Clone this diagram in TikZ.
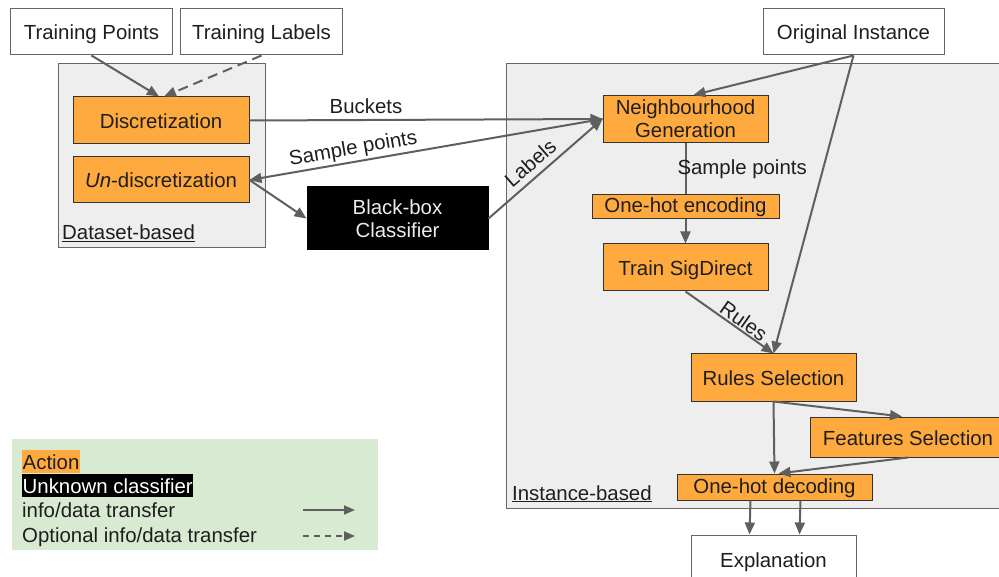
\documentclass[tikz,border=0pt]{standalone}
\usepackage{fontspec}
\setmainfont{Liberation Sans}
\usetikzlibrary{arrows.meta}

\definecolor{actorange}{RGB}{255,170,62}
\definecolor{panelgray}{RGB}{238,238,238}
\definecolor{edgegray}{RGB}{102,102,102}
\definecolor{flowgray}{RGB}{95,95,95}
\definecolor{legendgreen}{RGB}{217,234,211}
\definecolor{inktext}{RGB}{30,30,30}

\tikzset{
  txt/.style={font=\fontsize{20.4}{23.5}\selectfont, text=inktext},
  box/.style={txt, draw=edgegray, line width=1pt, inner sep=0pt, align=center},
  oneline/.style={text height=19pt, text depth=3pt},
  slim/.style={text height=18pt, text depth=6pt},
  inbox/.style={box, fill=white},
  actbox/.style={box, fill=actorange, draw=black!80},
  bbox/.style={box, fill=black, draw=black, text=white!92!black},
  panel/.style={draw=edgegray, line width=1pt, fill=panelgray},
  flow/.style={draw=flowgray, line width=2pt, -{Triangle[length=12pt,width=10pt]}},
  optflow/.style={flow, dash pattern=on 10pt off 6pt},
  lbl/.style={txt, inner sep=1pt},
}

\begin{document}
\begin{tikzpicture}[x=1pt, y=-1pt]
\useasboundingbox (0,0) rectangle (999,577);

% panels
\draw[panel] (58,64) rectangle (265,248);
\draw[panel] (506,64) rectangle (1003,508);
\fill[legendgreen] (12,439) rectangle (378,550);

% inputs and outputs
\node[inbox, oneline, minimum width=162pt, minimum height=46pt] (tp) at (91.5,32) {Training Points};
\node[inbox, oneline, minimum width=162pt, minimum height=46pt] (tl) at (261.5,32) {Training Labels};
\node[inbox, oneline, minimum width=181pt, minimum height=46pt] (oi) at (853.5,32) {Original Instance};
\node[inbox, oneline, minimum width=165pt, minimum height=48pt] (expl) at (773.5,559) {Explanation};

% dataset-based actions
\node[actbox, oneline, minimum width=176pt, minimum height=47pt] (disc) at (161,120.5) {Discretization};
\node[actbox, oneline, minimum width=176pt, minimum height=46pt] (undisc) at (161,180) {\textit{Un}-discretization};
\node[txt, anchor=base west, inner sep=0pt] (dslabel) at (62,240) {\underline{Dataset-based}};

% classifier
\node[bbox, minimum width=181pt, minimum height=63pt] (bb) at (397.5,218.5) {Black-box\\Classifier};

% instance-based actions
\node[actbox, minimum width=165pt, minimum height=47pt] (ng) at (685.5,119) {Neighbourhood\\[-0.5pt]Generation};
\node[actbox, slim, minimum width=187pt, minimum height=24pt] (ohe) at (685.5,207) {One-hot encoding};
\node[actbox, oneline, minimum width=165pt, minimum height=47pt] (tsd) at (685.5,267.5) {Train SigDirect};
\node[actbox, oneline, minimum width=165pt, minimum height=47pt] (rs) at (773.5,377.5) {Rules Selection};
\node[actbox, oneline, minimum width=196pt, minimum height=40pt] (fs) at (908,437) {Features Selection};
\node[actbox, slim, minimum width=195pt, minimum height=26pt] (ohd) at (774.5,487) {One-hot decoding};
\node[txt, anchor=base west, inner sep=0pt] (iblabel) at (512,500) {\underline{Instance-based}};

% connectors
\draw[flow] (tp.south) -- ([xshift=-2pt]disc.north);
\draw[optflow] (tl.south) -- ([xshift=3pt]disc.north);
\draw[flow] (disc.east) -- node[lbl, above=4pt, pos=0.33] {Buckets} (ng.west);
\draw[flow] (ng.west) -- node[lbl, sloped, above=2pt, pos=0.7, inner sep=0pt] {Sample points} (undisc.east);
\draw[flow] (undisc.east) -- (bb.west);
\draw[flow] (bb.east) -- node[lbl, sloped, above=6pt, pos=0.45, inner sep=0pt] {Labels} (ng.west);
\draw[flow] (oi.south) -- ([xshift=8pt]ng.north);
\draw[flow] (oi.south) -- (rs.north);
\draw[draw=flowgray, line width=2pt] (ng.south) -- node[lbl, right, pos=0.5, xshift=-10pt] {Sample points} (ohe.north);
\draw[flow] (ohe.south) -- (tsd.north);
\draw[flow] (tsd.south) -- node[lbl, sloped, above, pos=0.6] {Rules} (rs.north);
\draw[flow] (rs.south) -- ([xshift=-6pt]fs.north);
\draw[flow] (rs.south) -- (ohd.north);
\draw[flow] (fs.south) -- ([xshift=4pt]ohd.north);
\draw[flow] ([xshift=-24pt]ohd.south) -- ([xshift=-24pt]expl.north);
\draw[flow] ([xshift=26pt]ohd.south) -- ([xshift=26pt]expl.north);

% legend
\node[txt, anchor=base west, fill=actorange, inner xsep=0.5pt, inner ysep=1pt, text height=18pt, text depth=3pt] (lgact) at (22,469) {Action};
\node[txt, anchor=base west, fill=black, text=white, inner xsep=0.5pt, inner ysep=1pt, text height=18pt, text depth=3pt] (lgbb) at (22,493) {Unknown classifier};
\node[txt, anchor=base west, inner sep=0pt] (lgflow) at (22,517) {info/data transfer};
\node[txt, anchor=base west, inner sep=0pt] (lgopt) at (22,542) {Optional info/data transfer};
\coordinate (lfa) at (303,510);
\coordinate (lfb) at (355,510);
\coordinate (loa) at (303,536);
\coordinate (lob) at (355,536);
\draw[flow, -{Triangle[length=11pt,width=9pt]}] (lfa) -- (lfb);
\draw[flow, dash pattern=on 6pt off 5pt, -{Triangle[length=11pt,width=9pt]}] (loa) -- (lob);
\end{tikzpicture}
\end{document}
